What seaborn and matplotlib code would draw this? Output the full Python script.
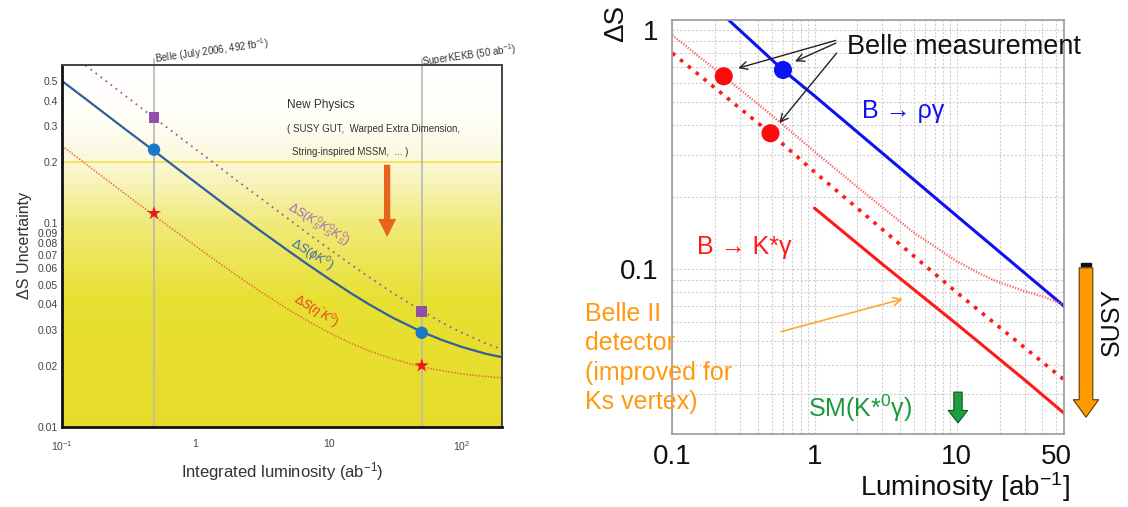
import matplotlib

matplotlib.use("Agg")
import matplotlib.pyplot as plt
import numpy as np
import seaborn as sns
from matplotlib.colors import LinearSegmentedColormap

sns.set_style("white")
plt.rcParams["font.family"] = ["Liberation Sans", "DejaVu Sans"]
plt.rcParams["mathtext.fontset"] = "custom"
plt.rcParams["mathtext.rm"] = "Liberation Sans"
plt.rcParams["mathtext.it"] = "Liberation Sans:italic"

W, H = 1128, 507

# ---- left panel data ----
lum = [0.1, 0.15, 0.2, 0.3, 0.49, 0.7, 1, 1.5, 2, 3, 5, 7, 10, 15, 20, 30, 50, 70, 100, 150, 200]
ds_phik = [0.500, 0.409, 0.354, 0.289, 0.227, 0.190, 0.159, 0.130, 0.113, 0.093, 0.0732, 0.0627,
           0.0535, 0.0450, 0.0401, 0.0345, 0.0293, 0.0268, 0.0247, 0.0229, 0.0220]
lum_ks = [0.15, 0.2, 0.3, 0.49, 0.7, 1, 1.5, 2, 3, 5, 7, 10, 15, 20, 30, 50, 70, 100, 150, 200]
ds_ksksks = [0.597, 0.517, 0.422, 0.330, 0.277, 0.232, 0.190, 0.164, 0.135, 0.105, 0.0891,
             0.0752, 0.0622, 0.0546, 0.0457, 0.0371, 0.0327, 0.0290, 0.0258, 0.0240]
ds_etapk = [0.240, 0.196, 0.170, 0.139, 0.109, 0.092, 0.0775, 0.0640, 0.0560, 0.0467, 0.0377, 0.0331,
            0.0291, 0.0256, 0.0237, 0.0216, 0.0197, 0.0189, 0.0182, 0.0177, 0.0174]
marker_lum = [0.49, 50]
marker_ks = [0.33, 0.037]
marker_phik = [0.23, 0.029]
marker_etapk = [0.112, 0.020]
left_yticks = [0.01, 0.02, 0.03, 0.04, 0.05, 0.06, 0.07, 0.08, 0.09, 0.1, 0.2, 0.3, 0.4, 0.5]
left_xticks = [0.1, 1, 10, 100]
left_xticklabels = [r"$10^{-1}$", "1", "10", r"$10^{2}$"]

# ---- right panel data ----
rho_lum = [0.2, 0.6, 1, 10, 57]
rho_ds = [1.24, 0.68, 0.53, 0.167, 0.070]
kst_fine_lum = [0.1, 0.23, 0.5, 1, 2.5, 5, 10, 15, 20, 30, 40, 57]
kst_fine_ds = [0.95, 0.64, 0.44, 0.31, 0.198, 0.142, 0.108, 0.095, 0.088, 0.081, 0.077, 0.071]
kst_dot_lum = [0.1, 0.49, 1, 10, 57]
kst_dot_ds = [0.80, 0.37, 0.255, 0.080, 0.0345]
kst_solid_lum = [1, 3, 10, 30, 57]
kst_solid_ds = [0.18, 0.105, 0.059, 0.0345, 0.025]
belle_red_lum = [0.23, 0.49]
belle_red_ds = [0.64, 0.37]
belle_blue_lum = [0.6]
belle_blue_ds = [0.68]


def px(x, y):
    return x / W, 1 - y / H


fig = plt.figure(figsize=(W / 100, H / 100), dpi=100)

# ================= left panel =================
axl = fig.add_axes([0.055, 0.158, 0.390, 0.714])
axl.set_xscale("log")
axl.set_yscale("log")

grad = LinearSegmentedColormap.from_list(
    "bg", [(0, "#e6dc28"), (0.35, "#e8e032"), (0.56, "#f0ea78"), (0.73, "#fbf8d8"),
           (0.85, "#fffef6"), (1, "#ffffff")])
axl.imshow(np.linspace(0, 1, 256).reshape(-1, 1), cmap=grad, origin="lower", aspect="auto",
           extent=[0, 1, 0, 1], transform=axl.transAxes, zorder=0)

axl.axhline(0.2, color="#f2e24a", lw=1.2, zorder=1)
for xv in marker_lum:
    axl.axvline(xv, ymax=1.015, color="#b8b8b8", lw=1.2, clip_on=False, zorder=1)

sns.lineplot(x=lum_ks, y=ds_ksksks, ax=axl, color="#9a5aa8", lw=1.3, linestyle=(0, (1, 2.5)), sort=False)
sns.lineplot(x=lum, y=ds_phik, ax=axl, color="#2f5f9c", lw=1.6, sort=False)
sns.lineplot(x=lum, y=ds_etapk, ax=axl, color="#e2703a", lw=1.1, linestyle=(0, (1, 1)), sort=False)

sns.scatterplot(x=marker_lum, y=marker_ks, ax=axl, marker="s", s=60, color="#9050a8", edgecolor="none", zorder=5)
sns.scatterplot(x=marker_lum, y=marker_phik, ax=axl, marker="o", s=80, color="#1a78c8", edgecolor="none", zorder=5)
sns.scatterplot(x=marker_lum, y=marker_etapk, ax=axl, marker="*", s=110, color="#e81a1a", edgecolor="none", zorder=5)

axl.set_xlim(0.1, 200)
axl.set_ylim(0.01, 0.6)
axl.set_yticks(left_yticks)
axl.set_yticklabels([f"{v:g}" for v in left_yticks])
axl.yaxis.set_minor_locator(matplotlib.ticker.NullLocator())
axl.set_xticks(left_xticks)
axl.set_xticklabels(left_xticklabels)
axl.tick_params(axis="both", which="both", direction="in", labelsize=7.5, colors="#222222",
                labelcolor="#444444")
axl.tick_params(axis="x", which="major", length=5, width=1.2, pad=9)
axl.tick_params(axis="x", which="minor", length=3, width=1.2)
axl.tick_params(axis="y", which="major", length=4, width=1.0, pad=3)
for side in ["top", "right"]:
    axl.spines[side].set_color("#444444")
    axl.spines[side].set_linewidth(1.4)
for side in ["left", "bottom"]:
    axl.spines[side].set_color("#111111")
    axl.spines[side].set_linewidth(2.0)
axl.set_xlabel(r"Integrated luminosity (ab$^{-1}$)", fontsize=12, color="#333333", labelpad=5)
axl.set_ylabel("ΔS Uncertainty", fontsize=11.5, color="#333333", labelpad=4)

axl.text(0.511, 0.88, "New Physics", transform=axl.transAxes, fontsize=8.5, color="#333333")
axl.text(0.511, 0.815, "( SUSY GUT,  Warped Extra Dimension,", transform=axl.transAxes, fontsize=7,
         color="#333333")
axl.text(0.523, 0.752, "String-inspired MSSM,  ... )", transform=axl.transAxes, fontsize=7,
         color="#333333")
axl.annotate("", xy=(27.5, 0.083), xytext=(27.5, 0.2),
             arrowprops=dict(arrowstyle="simple,head_width=1.3,head_length=1.3,tail_width=0.45",
                             color="#e8641e", lw=0))

axl.text(*px(319, 224), r"$\Delta S(K^0_S K^0_S K^0_S)$", transform=fig.transFigure, rotation=-31,
         ha="center", va="center", fontsize=9, color="#a868b8")
axl.text(*px(312, 254), r"$\Delta S(\phi K^0)$", transform=fig.transFigure, rotation=-31,
         ha="center", va="center", fontsize=9, color="#3a6aa8")
axl.text(*px(316, 311), r"$\Delta S(\eta' K^0)$", transform=fig.transFigure, rotation=-31,
         ha="center", va="center", fontsize=9, color="#e8402a")

fig.text(*px(155, 63), r"Belle (July 2006, 492 fb$^{-1}$)", rotation=8, rotation_mode="anchor",
         ha="left", va="baseline", fontsize=7, color="#333333")
fig.text(*px(422, 66), r"SuperKEKB (50 ab$^{-1}$)", rotation=8, rotation_mode="anchor",
         ha="left", va="baseline", fontsize=7, color="#333333")

# ================= right panel =================
axr = fig.add_axes([0.596, 0.144, 0.3475, 0.8166])
axr.set_xscale("log")
axr.set_yscale("log")
axr.grid(which="both", color="#cfcfcf", linestyle=(0, (2, 1.5)), lw=0.8)

sns.lineplot(x=rho_lum, y=rho_ds, ax=axr, color="#1010f0", lw=2.2, sort=False)
sns.lineplot(x=kst_fine_lum, y=kst_fine_ds, ax=axr, color="#ff5a5a", lw=1.7, linestyle=(0, (0.5, 0.7)), sort=False)
sns.lineplot(x=kst_dot_lum, y=kst_dot_ds, ax=axr, color="#ff1a1a", lw=2.6, linestyle=(0, (1, 1.8)), sort=False)
sns.lineplot(x=kst_solid_lum, y=kst_solid_ds, ax=axr, color="#ff1a1a", lw=2.2, sort=False)
sns.scatterplot(x=belle_red_lum, y=belle_red_ds, ax=axr, s=170, color="#ff0a0a", edgecolor="none", zorder=5)
sns.scatterplot(x=belle_blue_lum, y=belle_blue_ds, ax=axr, s=170, color="#0a14f5", edgecolor="none", zorder=5)

axr.set_xlim(0.1, 57)
axr.set_ylim(0.0205, 1.1)
axr.set_xticks([0.1, 1, 10, 50])
axr.set_xticklabels(["0.1", "1", "10", "50"])
axr.set_yticks([0.1, 1])
axr.set_yticklabels(["0.1", "1"])
axr.tick_params(axis="both", which="both", length=0, labelsize=20, labelcolor="#111111")
axr.tick_params(axis="x", pad=7)
axr.tick_params(axis="y", pad=10)
for side in axr.spines:
    axr.spines[side].set_color("#9a9a9a")
    axr.spines[side].set_linewidth(1.2)

fig.text(*px(965, 487), r"Luminosity [ab$^{-1}$]", ha="center", va="center", fontsize=20, color="#111111")
fig.text(*px(616, 23), "ΔS", rotation=90, ha="center", va="center", fontsize=20, color="#111111")

axr.text(*px(847, 47), "Belle measurement", transform=fig.transFigure, ha="left", va="center",
         fontsize=19.5, color="#111111")
arrow_kw = dict(arrowstyle="->", color="#222222", lw=1.0, mutation_scale=14)
axr.annotate("", xy=(0.278, 0.687), xytext=(1.47, 0.91), arrowprops=arrow_kw)
axr.annotate("", xy=(0.70, 0.73), xytext=(1.47, 0.89), arrowprops=arrow_kw)
axr.annotate("", xy=(0.55, 0.40), xytext=(1.47, 0.816), arrowprops=arrow_kw)

axr.text(*px(862, 111), "B → ργ", transform=fig.transFigure, ha="left", va="center",
         fontsize=18, color="#1010f0")
axr.text(*px(697, 247), "B → K*γ", transform=fig.transFigure, ha="left", va="center",
         fontsize=18, color="#ff1a1a")
axr.text(*px(585, 358), "Belle II\ndetector\n(improved for\nKs vertex)", transform=fig.transFigure,
         ha="left", va="center", fontsize=18, color="#ff9a10", linespacing=1.28)
axr.annotate("", xy=(4.37, 0.0757), xytext=(0.557, 0.0545),
             arrowprops=dict(arrowstyle="->", color="#ffa830", lw=1.2, mutation_scale=14))
axr.text(*px(808, 408), r"SM(K*$^{0}$γ)", transform=fig.transFigure, ha="left", va="center",
         fontsize=18, color="#1a9a3a")
axr.annotate("", xy=(10.2, 0.0222), xytext=(10.2, 0.0315),
             arrowprops=dict(arrowstyle="simple,head_width=1.4,head_length=0.9,tail_width=0.6",
                             fc="#1e9e3e", ec="#0b5a22", lw=0.8))

# SUSY arrow outside axes
fig.patches.append(matplotlib.patches.FancyArrowPatch(
    px(1086, 265), px(1086, 420), transform=fig.transFigure,
    arrowstyle="simple,head_width=1.3,head_length=0.9,tail_width=0.7", mutation_scale=14,
    fc="#ff9a00", ec="#5a3a00", lw=0.8))
fig.patches.append(matplotlib.patches.Rectangle(
    (px(1081, 266)[0], px(1081, 266)[1]), 10 / W, 3 / H, transform=fig.transFigure,
    color="#111111"))
fig.text(*px(1112, 322), "SUSY", rotation=90, ha="center", va="center", fontsize=18, color="#111111")

fig.savefig("out.png", dpi=100)
